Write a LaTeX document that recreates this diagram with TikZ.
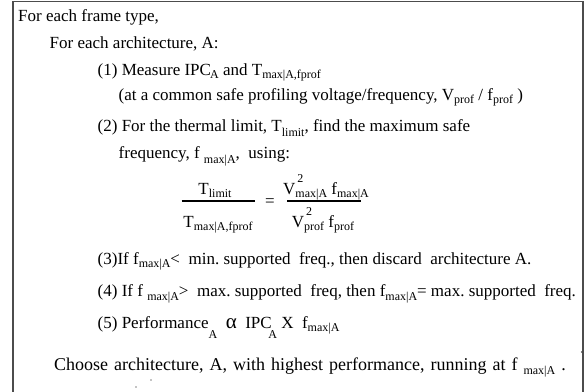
\documentclass[tikz,border=0pt]{standalone}
\usepackage{fontspec}
\setmainfont{Liberation Serif}
\newcommand\sbs[1]{\raisebox{-0.22em}{\fontsize{12}{12}\selectfont #1}}
\newcommand\lowsb[1]{\raisebox{-0.6em}{\fontsize{12}{12}\selectfont #1}}
\newcommand\supsb[2]{\rlap{\hspace{0.12em}\raisebox{0.65em}{\fontsize{12}{12}\selectfont #1}}\sbs{#2}}
\newcommand\widefont{\fontsize{18}{21}\selectfont\spaceskip=6pt\relax}
\tikzset{
  txt/.style={anchor=base west, inner sep=0pt, font=\fontsize{17}{20}\selectfont},
  ctxt/.style={anchor=base, inner sep=0pt, font=\fontsize{17}{20}\selectfont},
  wide/.style={anchor=base west, inner sep=0pt, font=\widefont},
  frame/.style={draw=black!70, line width=1.3pt},
  bar/.style={draw=black, line width=1.8pt},
  speck/.style={fill=black, inner sep=0pt, minimum size=1.3pt, circle}
}
\begin{document}
\begin{tikzpicture}[x=1pt,y=-1pt]
\useasboundingbox (0,0) rectangle (585,391);
\draw[frame] (13,400) -- (13,1.2) -- (583,1.2) -- (583,400);
\node[txt] (l1) at (18,21.5) {For each frame type,};
\node[txt] (l2) at (49.5,48.5) {For each architecture, A:};
\node[txt] (l3) at (97.5,75) {(1) Measure IPC\kern-0.05em\sbs{A} and T\sbs{max|A,fprof}};
\node[txt] (l4) at (118.5,100) {(at a common safe profiling voltage/frequency, V\sbs{prof} / f\sbs{prof} )};
\node[txt] (l5) at (97.5,131.5) {(2) For the thermal limit, T\raisebox{-0.05em}{\sbs{limit}}, find the maximum safe};
\node[txt] (l6) at (118.5,158) {frequency, f \raisebox{-0.08em}{\sbs{max|A}}, \ using:};
\node[ctxt] (n1) at (215,194) {T\sbs{limit}};
\node[ctxt] (d1) at (218,227) {T\sbs{max|A,fprof}};
\coordinate (b1a) at (181.5,201);
\coordinate (b1b) at (255,201);
\draw[bar] (b1a) -- (b1b);
\node[ctxt] (eq) at (270,206) {=};
\node[ctxt] (n2) at (326,194) {V\supsb{2}{max|A} f\sbs{max|A}};
\node[ctxt] (d2) at (323,227) {V\supsb{2}{prof} f\sbs{prof}};
\coordinate (b2a) at (287,201);
\coordinate (b2b) at (361,201);
\draw[bar] (b2a) -- (b2b);
\node[txt] (l7) at (97.5,264) {(3)If f\sbs{max|A}<\ \ min.\ supported\ \ freq., then discard\ \ architecture A.};
\node[txt] (l8) at (97.5,296.5) {(4) If f \sbs{max|A}>\ \ max.\ supported\ \ freq, then f\sbs{max|A}= max.\ supported\ \ freq.};
\node[txt] (l9) at (97.5,328) {(5) Performance\lowsb{A}\ \ {\fontsize{21}{21}\selectfont α}\ \ IPC\kern-0.2em\lowsb{A}\ X\ \ f\sbs{max|A}};
\node[wide] (l10) at (54,370.5) {Choose architecture, A, with highest performance, running at f \sbs{max|A} .};
\node[speck] (s1) at (136,387) {};
\node[speck] (s2) at (151,380) {};
\node[speck] (s3) at (581.5,352) {};
\end{tikzpicture}
\end{document}
